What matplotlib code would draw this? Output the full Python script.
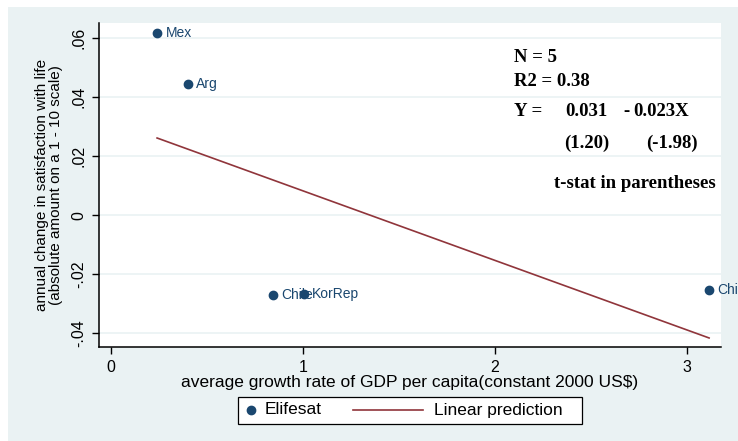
import numpy as np
import matplotlib
matplotlib.use("Agg")
import matplotlib.pyplot as plt
from matplotlib.patches import Rectangle
from matplotlib.lines import Line2D

# donnees
pays = ["Mex", "Arg", "Chile", "KorRep", "China"]
croissance = [0.240, 0.401, 0.844, 1.005, 3.115]
elifesat = [0.0617, 0.0444, -0.0271, -0.0268, -0.0254]

xticks = [0, 1, 2, 3]
yticks = [-0.04, -0.02, 0, 0.02, 0.04, 0.06]
yticklabels = ["-.04", "-.02", "0", ".02", ".04", ".06"]
legende = ["Elifesat", "Linear prediction"]

bg = "#eaf2f3"
navy = "#1a476f"
maroon = "#90353b"

plt.rcParams['font.family'] = ['Liberation Sans', 'DejaVu Sans']

W, H = 738, 441
fig = plt.figure(figsize=(W/100, H/100), dpi=100)
fig.patch.set_facecolor("white")
fig.patches.append(Rectangle((8/W, 0), 1 - 8/W, 1 - 7/H, transform=fig.transFigure,
                             facecolor=bg, edgecolor="none", zorder=-10))

ax = fig.add_axes([99/W, 1 - 347/H, 622/W, 324/H])
ax.set_facecolor("white")

# regression lineaire
pente, const = np.polyfit(croissance, elifesat, 1)
xs = np.array([min(croissance), max(croissance)])

ax.scatter(croissance, elifesat, s=36, color=navy, zorder=3, clip_on=False)
for p, x, y in zip(pays, croissance, elifesat):
  ax.annotate(p, (x, y), xytext=(6, 0), textcoords="offset points", va="center",
              fontsize=10, color=navy, annotation_clip=False, zorder=4)
ax.plot(xs, const + pente*xs, color=maroon, lw=1.2, zorder=2)

ax.set_xlim(-0.0625, 3.177)
ax.set_ylim(-0.0447, 0.0651)
ax.set_xticks(xticks)
ax.set_yticks(yticks)
ax.set_yticklabels(yticklabels, rotation=90, va="center")
ax.tick_params(labelsize=11.5, length=5, width=1, direction="out", pad=4)
ax.grid(axis="y", color=bg, lw=1.2)
ax.set_axisbelow(True)
for s in ["top", "right"]:
  ax.spines[s].set_visible(False)
for s in ["left", "bottom"]:
  ax.spines[s].set_linewidth(1.1)

ax.set_xlabel("average growth rate of GDP per capita(constant 2000 US$)", fontsize=12.5, labelpad=0)
ax.set_ylabel("annual change in satisfaction with life\n(absolute amount on a 1 - 10 scale)",
              fontsize=11, labelpad=6, linespacing=1.0)

# texte de la regression
tf = dict(family=["Liberation Serif", "DejaVu Serif"], weight="bold", fontsize=13.5,
          transform=fig.transFigure, va="center", ha="left")
fig.text(514/W, 1 - 57/H, "N = 5", **tf)
fig.text(514/W, 1 - 81/H, "R2 = 0.38", **tf)
fig.text(514/W, 1 - 112/H, "Y =", **tf)
fig.text(565/W, 1 - 112/H, "0.031", **tf)
fig.text(623/W, 1 - 112/H, "-", **tf)
fig.text(633/W, 1 - 112/H, "0.023X", **tf)
fig.text(564/W, 1 - 143/H, "(1.20)", **tf)
fig.text(646/W, 1 - 143/H, "(-1.98)", **tf)
fig.text(554/W, 1 - 184/H, "t-stat in parentheses", **tf)

# legende dessinee a la main
fig.patches.append(Rectangle((238/W, 1 - 424/H), 344/W, 27/H, transform=fig.transFigure,
                             facecolor="white", edgecolor="black", lw=0.9, zorder=5))
fig.add_artist(Line2D([251/W], [1 - 410/H], marker="o", ls="none", color=navy,
                      markersize=6, transform=fig.transFigure, zorder=6))
fig.text(265/W, 1 - 410/H, legende[0], fontsize=12.5, va="center", ha="left", zorder=6)
fig.add_artist(Line2D([353/W, 423/W], [1 - 410/H, 1 - 410/H], color=maroon, lw=1.2,
                      transform=fig.transFigure, zorder=6))
fig.text(434/W, 1 - 410/H, legende[1], fontsize=12.5, va="center", ha="left", zorder=6)

fig.savefig("out.png", dpi=100, facecolor=fig.get_facecolor())
